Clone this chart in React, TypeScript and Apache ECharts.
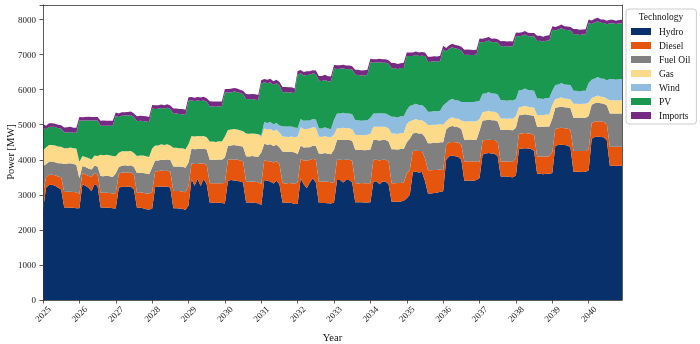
import { useEffect, useRef } from "react";
import * as echarts from "echarts";

// Monthly generation mix, one row per year (Jan..Dec), MW
const years = [2025, 2026, 2027, 2028, 2029, 2030, 2031, 2032, 2033, 2034, 2035, 2036, 2037, 2038, 2039, 2040];
const months = ["01", "02", "03", "04", "05", "06", "07", "08", "09", "10", "11", "12"];

const hydro = [
  [2570, 3200, 3280, 3290, 3260, 3200, 3150, 2640, 2640, 2630, 2630, 2620],
  [2620, 3300, 3260, 3200, 3100, 3310, 3250, 2640, 2640, 2630, 2630, 2620],
  [2610, 3200, 3230, 3220, 3240, 3230, 3150, 2630, 2630, 2620, 2590, 2580],
  [2600, 3220, 3230, 3240, 3230, 3240, 3200, 2620, 2620, 2610, 2600, 2570],
  [2700, 3450, 3260, 3450, 3250, 3450, 3300, 2780, 2780, 2770, 2780, 2770],
  [2750, 3400, 3420, 3410, 3400, 3380, 3350, 2780, 2780, 2780, 2770, 2760],
  [2710, 3420, 3400, 3380, 3320, 3400, 3300, 2780, 2776, 2780, 2770, 2740],
  [2740, 3470, 3300, 3190, 3350, 3470, 3350, 2770, 2770, 2770, 2760, 2750],
  [2780, 3420, 3420, 3350, 3420, 3420, 3350, 2790, 2785, 2785, 2780, 2780],
  [2790, 3380, 3390, 3300, 3380, 3380, 3300, 2800, 2800, 2805, 2810, 2830],
  [2900, 3000, 3650, 3660, 3640, 3650, 3400, 3040, 3040, 3050, 3060, 3090],
  [3100, 4000, 4100, 4120, 4100, 4080, 4000, 3400, 3400, 3410, 3400, 3420],
  [3480, 4150, 4180, 4190, 4180, 4170, 4100, 3520, 3520, 3520, 3510, 3500],
  [3550, 4300, 4320, 4330, 4320, 4310, 4250, 3600, 3600, 3590, 3600, 3600],
  [3620, 4400, 4420, 4430, 4420, 4410, 4350, 3660, 3660, 3660, 3650, 3660],
  [3700, 4600, 4650, 4660, 4650, 4640, 4550, 3830, 3830, 3830, 3830, 3830],
];

const diesel = [
  [450, 300, 290, 280, 300, 320, 350, 440, 450, 460, 450, 450],
  [400, 320, 330, 340, 420, 300, 330, 420, 420, 430, 420, 420],
  [440, 400, 410, 420, 400, 410, 420, 430, 440, 440, 450, 450],
  [480, 450, 440, 460, 450, 450, 460, 490, 490, 500, 490, 500],
  [550, 450, 620, 430, 640, 450, 550, 550, 550, 560, 550, 560],
  [590, 600, 590, 600, 610, 600, 600, 595, 590, 600, 600, 600],
  [600, 570, 560, 580, 600, 560, 580, 554, 550, 560, 560, 570],
  [620, 560, 680, 790, 640, 560, 650, 605, 600, 610, 610, 610],
  [560, 580, 580, 640, 580, 580, 620, 545, 540, 550, 550, 550],
  [540, 620, 610, 680, 620, 620, 650, 530, 530, 530, 530, 520],
  [700, 720, 600, 600, 610, 600, 650, 660, 660, 660, 650, 640],
  [600, 420, 400, 390, 400, 410, 420, 550, 550, 550, 550, 540],
  [450, 400, 380, 380, 380, 390, 400, 430, 430, 430, 430, 440],
  [500, 440, 430, 430, 430, 430, 450, 490, 490, 500, 490, 500],
  [600, 480, 480, 480, 480, 480, 500, 590, 590, 590, 600, 590],
  [600, 450, 440, 440, 440, 440, 460, 540, 540, 540, 540, 540],
];

const fuelOil = [
  [800, 370, 370, 380, 370, 380, 400, 800, 800, 810, 800, 790],
  [450, 200, 200, 210, 200, 220, 230, 480, 470, 490, 480, 470],
  [560, 190, 190, 200, 190, 200, 220, 560, 560, 560, 570, 560],
  [700, 310, 310, 300, 310, 320, 330, 700, 700, 700, 710, 700],
  [670, 420, 420, 430, 420, 420, 440, 670, 670, 670, 680, 670],
  [725, 400, 400, 410, 400, 410, 420, 725, 720, 730, 720, 725],
  [900, 470, 470, 480, 470, 470, 480, 900, 900, 890, 900, 900],
  [805, 370, 370, 380, 370, 370, 390, 805, 800, 810, 800, 800],
  [950, 560, 560, 570, 560, 560, 570, 950, 950, 950, 940, 950],
  [960, 560, 560, 570, 560, 560, 570, 970, 970, 960, 970, 960],
  [900, 880, 500, 510, 500, 500, 600, 770, 770, 780, 770, 770],
  [800, 440, 440, 450, 440, 440, 460, 610, 610, 620, 610, 610],
  [900, 570, 570, 580, 570, 570, 590, 900, 900, 900, 910, 900],
  [860, 530, 530, 540, 530, 530, 550, 850, 850, 850, 860, 850],
  [950, 600, 600, 610, 600, 600, 620, 950, 950, 950, 950, 950],
  [950, 520, 520, 530, 520, 520, 540, 950, 950, 950, 950, 950],
];

const gas = [
  [450, 480, 480, 470, 480, 480, 470, 450, 440, 450, 450, 460],
  [470, 290, 290, 300, 290, 290, 300, 600, 600, 590, 600, 600],
  [490, 410, 410, 400, 410, 410, 400, 490, 490, 500, 490, 490],
  [540, 430, 430, 440, 430, 430, 420, 530, 530, 520, 530, 530],
  [520, 360, 360, 370, 360, 360, 350, 520, 520, 510, 520, 520],
  [600, 450, 450, 460, 450, 450, 440, 650, 650, 640, 650, 640],
  [430, 430, 430, 440, 430, 430, 420, 430, 430, 420, 430, 430],
  [500, 530, 530, 520, 530, 530, 520, 480, 480, 490, 480, 480],
  [430, 340, 340, 350, 340, 340, 330, 430, 430, 420, 430, 430],
  [450, 380, 380, 390, 380, 380, 370, 450, 450, 440, 450, 450],
  [520, 500, 380, 390, 380, 380, 420, 520, 520, 510, 520, 520],
  [500, 240, 240, 250, 240, 240, 240, 530, 530, 520, 530, 530],
  [330, 240, 240, 250, 240, 240, 240, 330, 330, 320, 330, 330],
  [340, 230, 230, 240, 230, 230, 230, 340, 340, 330, 340, 340],
  [400, 250, 250, 260, 250, 250, 250, 400, 400, 390, 400, 400],
  [380, 190, 190, 200, 190, 190, 190, 380, 380, 370, 380, 380],
];

const wind = [
  [0, 0, 0, 0, 0, 0, 0, 0, 0, 0, 0, 0],
  [0, 0, 0, 0, 0, 0, 0, 0, 0, 0, 0, 0],
  [0, 0, 0, 0, 0, 0, 0, 0, 0, 0, 0, 0],
  [0, 0, 0, 0, 0, 0, 0, 0, 0, 0, 0, 0],
  [0, 0, 0, 0, 0, 0, 0, 0, 0, 0, 0, 0],
  [0, 0, 0, 0, 0, 0, 0, 0, 0, 0, 0, 0],
  [60, 190, 190, 200, 190, 190, 200, 290, 290, 300, 290, 280],
  [240, 230, 230, 240, 230, 230, 240, 240, 240, 250, 240, 240],
  [420, 420, 420, 430, 420, 420, 430, 420, 420, 410, 420, 420],
  [460, 380, 380, 390, 380, 380, 390, 480, 480, 470, 480, 480],
  [400, 430, 430, 440, 430, 430, 420, 380, 380, 390, 380, 380],
  [550, 520, 520, 530, 520, 520, 530, 560, 560, 550, 560, 560],
  [520, 520, 520, 530, 520, 520, 530, 520, 520, 510, 520, 520],
  [480, 480, 480, 490, 480, 480, 490, 470, 470, 460, 470, 470],
  [400, 400, 400, 410, 400, 400, 410, 370, 370, 360, 370, 370],
  [560, 520, 520, 530, 520, 520, 530, 600, 600, 590, 600, 600],
];

const pv = [
  [650, 520, 515, 520, 525, 520, 515, 445, 450, 445, 440, 450],
  [1180, 1010, 1040, 1070, 1110, 1000, 1010, 830, 840, 830, 840, 860],
  [1150, 1020, 1015, 1020, 1025, 1020, 1030, 990, 990, 985, 990, 995],
  [1140, 1040, 1045, 1035, 1040, 1040, 1035, 975, 980, 975, 970, 975],
  [1240, 1010, 1015, 1010, 1005, 1010, 1015, 1000, 1000, 1005, 995, 1000],
  [1255, 1065, 1060, 1065, 1070, 1065, 1060, 980, 985, 980, 975, 980],
  [1470, 1130, 1135, 1130, 1125, 1130, 1135, 975, 980, 975, 970, 975],
  [1525, 1300, 1295, 1300, 1305, 1300, 1295, 1350, 1355, 1345, 1350, 1350],
  [1460, 1270, 1275, 1270, 1265, 1270, 1275, 1290, 1295, 1290, 1285, 1290],
  [1580, 1450, 1455, 1450, 1445, 1450, 1460, 1380, 1385, 1380, 1375, 1380],
  [1540, 1430, 1400, 1395, 1400, 1405, 1470, 1420, 1425, 1420, 1415, 1420],
  [1600, 1470, 1465, 1470, 1475, 1470, 1465, 1340, 1345, 1340, 1335, 1340],
  [1680, 1470, 1475, 1470, 1465, 1470, 1475, 1540, 1545, 1540, 1535, 1540],
  [1800, 1540, 1545, 1540, 1535, 1540, 1545, 1640, 1645, 1640, 1635, 1640],
  [1740, 1560, 1565, 1560, 1555, 1560, 1565, 1610, 1615, 1610, 1605, 1610],
  [1710, 1590, 1595, 1590, 1585, 1590, 1595, 1590, 1595, 1590, 1585, 1590],
];

const imports = [
  [100, 100, 105, 100, 95, 100, 100, 145, 145, 150, 145, 145],
  [100, 95, 100, 105, 100, 100, 100, 145, 150, 145, 145, 140],
  [100, 100, 100, 95, 100, 105, 100, 140, 145, 145, 150, 145],
  [100, 105, 100, 100, 95, 100, 100, 145, 145, 140, 145, 150],
  [100, 100, 95, 100, 100, 105, 100, 150, 145, 145, 140, 145],
  [100, 100, 105, 100, 100, 95, 100, 145, 140, 145, 150, 145],
  [100, 95, 100, 100, 105, 100, 100, 145, 150, 145, 145, 140],
  [100, 100, 100, 105, 100, 95, 100, 140, 145, 150, 145, 145],
  [100, 105, 100, 100, 100, 100, 95, 145, 145, 140, 145, 150],
  [100, 100, 95, 100, 105, 100, 100, 150, 145, 145, 140, 145],
  [100, 100, 100, 95, 100, 105, 100, 145, 140, 145, 150, 145],
  [100, 95, 100, 100, 100, 100, 105, 145, 150, 145, 145, 140],
  [100, 100, 105, 100, 95, 100, 100, 140, 145, 150, 145, 145],
  [100, 105, 100, 100, 100, 95, 100, 145, 145, 140, 145, 150],
  [100, 100, 100, 105, 100, 100, 95, 150, 145, 145, 140, 145],
  [100, 100, 105, 100, 95, 100, 100, 100, 100, 95, 100, 100],
];

const technologies = ["Hydro", "Diesel", "Fuel Oil", "Gas", "Wind", "PV", "Imports"];
const colors = ["#08306b", "#e6550d", "#808080", "#fdd98a", "#8fbde0", "#1a9850", "#762a83"];

const FONT = '"Liberation Serif", "Times New Roman", serif';

export default function App() {
  const ref = useRef<HTMLDivElement>(null);

  useEffect(() => {
    if (!ref.current) return;
    const chart = echarts.init(ref.current, null, { renderer: "svg" });

    const categories = years.flatMap((y) => months.map((m) => `${y}-${m}`));
    const stacks = [hydro, diesel, fuelOil, gas, wind, pv, imports].map((rows) => rows.flat());
    const isYearStart = (index: number) => index % 12 === 0;
    const spine = { color: "#333", width: 0.8 };

    chart.setOption({
      animation: false,
      textStyle: { fontFamily: FONT },
      grid: { left: 43, right: 78, top: 5, bottom: 44, containLabel: false, outerBoundsMode: "none" },
      legend: {
        orient: "vertical",
        left: 626,
        top: 9,
        data: technologies,
        icon: "rect",
        itemWidth: 20,
        itemHeight: 7,
        itemGap: 3,
        padding: [17, 6, 3, 5],
        borderColor: "#cccccc",
        borderWidth: 1,
        borderRadius: 3,
        backgroundColor: "#ffffff",
        selectedMode: false,
        itemStyle: { borderWidth: 0 },
        textStyle: { fontFamily: FONT, fontSize: 9.5, color: "#111", lineHeight: 11, padding: [0, 0, 0, 3] },
      },
      graphic: [
        {
          type: "text",
          x: 661,
          y: 17,
          z: 100,
          style: {
            text: "Technology",
            font: `9.5px ${FONT}`,
            fill: "#111",
            align: "center",
            verticalAlign: "middle",
          },
        },
        {
          // y-axis title, rotated to read bottom-up
          type: "text",
          x: 10,
          y: 152,
          rotation: Math.PI / 2,
          z: 100,
          style: {
            text: "Power [MW]",
            font: `10.5px ${FONT}`,
            fill: "#111",
            align: "center",
            verticalAlign: "middle",
          },
        },
      ],
      xAxis: [
        {
          type: "category",
          data: categories,
          boundaryGap: false,
          name: "Year",
          nameLocation: "middle",
          nameGap: 32,
          nameTextStyle: { fontFamily: FONT, fontSize: 10.5, color: "#111" },
          axisLine: { show: true, onZero: false, lineStyle: spine },
          axisTick: { show: true, interval: isYearStart, length: 3.5, lineStyle: spine },
          axisLabel: {
            interval: isYearStart,
            rotate: 45,
            align: "center",
            verticalAlign: "middle",
            margin: 14,
            fontFamily: FONT,
            fontSize: 9,
            color: "#222",
            formatter: (v: string) => v.slice(0, 4),
          },
          splitLine: { show: false },
          z: 10,
        },
        {
          type: "category",
          position: "top",
          data: categories,
          boundaryGap: false,
          axisLine: { show: true, onZero: false, lineStyle: spine },
          axisTick: { show: false },
          axisLabel: { show: false },
          splitLine: { show: false },
          z: 10,
        },
      ],
      yAxis: [
        {
          type: "value",
          min: 0,
          max: 8414,
          interval: 1000,
          axisLine: { show: true, onZero: false, lineStyle: spine },
          axisTick: { show: true, length: 3.5, lineStyle: spine },
          axisLabel: {
            margin: 7,
            fontFamily: FONT,
            fontSize: 9,
            color: "#222",
            formatter: (v: number) => (v % 1000 === 0 ? String(v) : ""),
          },
          splitLine: { show: false },
          z: 10,
        },
        {
          type: "value",
          position: "right",
          min: 0,
          max: 8414,
          interval: 1000,
          axisLine: { show: true, onZero: false, lineStyle: spine },
          axisTick: { show: false },
          axisLabel: { show: false },
          splitLine: { show: false },
          z: 10,
        },
      ],
      series: technologies.map((name, i) => ({
        name,
        type: "line",
        stack: "total",
        xAxisIndex: 0,
        yAxisIndex: 0,
        data: stacks[i],
        symbol: "none",
        showSymbol: false,
        lineStyle: { width: 0, opacity: 0 },
        itemStyle: { color: colors[i] },
        areaStyle: { color: colors[i], opacity: 1 },
        emphasis: { disabled: true },
      })),
    });

    return () => chart.dispose();
  }, []);

  return <div ref={ref} style={{ position: "fixed", left: 0, top: 0, width: 700, height: 344 }} />;
}
